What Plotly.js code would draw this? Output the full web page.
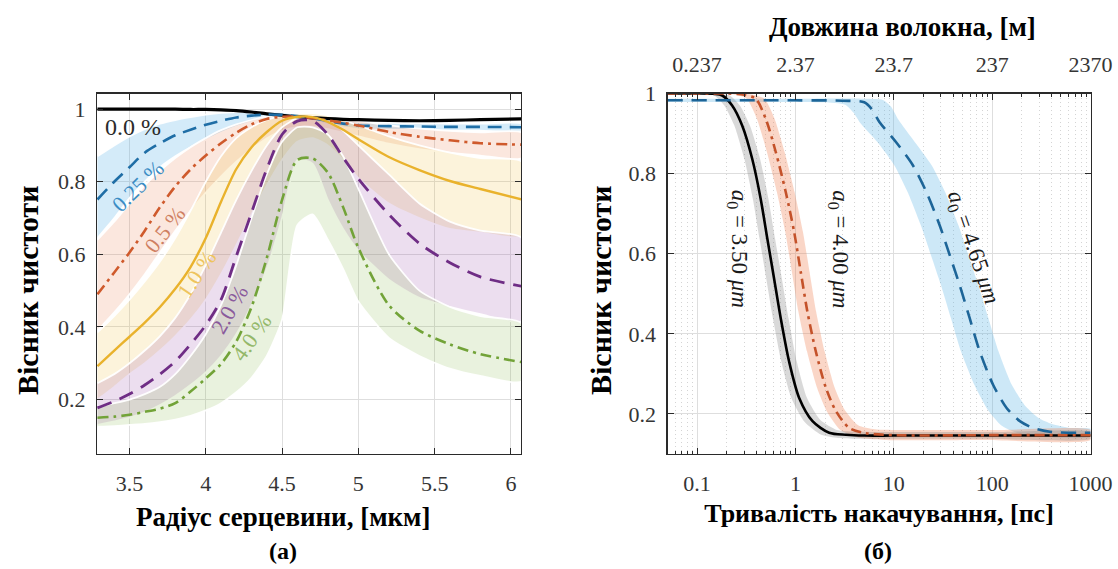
<!DOCTYPE html>
<html>
<head>
<meta charset="utf-8">
<script src="https://cdn.plot.ly/plotly-3.0.1.min.js"></script>
<style>html,body{margin:0;padding:0;background:#fff;}#chart{width:1118px;height:569px;}</style>
</head>
<body>
<div id="chart"></div>
<script>
// ---------- Panel (a): purity vs core radius ----------
const radius = [3.29,3.4,3.5,3.6,3.7,3.8,3.9,4.0,4.1,4.2,4.3,4.4,4.5,4.6,4.7,4.8,4.9,5.0,5.2,5.4,5.6,5.8,6.07];

const p00  = [1.0,1.0,1.0,1.0,1.0,1.0,0.999,0.999,0.998,0.996,0.992,0.987,0.983,0.979,0.976,0.974,0.972,0.971,0.969,0.968,0.969,0.971,0.973];

const p025    = [0.751,0.80,0.84,0.88,0.906,0.928,0.943,0.957,0.968,0.977,0.982,0.985,0.984,0.981,0.975,0.967,0.96,0.955,0.953,0.952,0.951,0.951,0.95];
const p025_lo = [0.645,0.70,0.755,0.8,0.84,0.87,0.895,0.915,0.935,0.952,0.965,0.975,0.977,0.975,0.968,0.958,0.95,0.945,0.943,0.942,0.941,0.941,0.94];
const p025_hi = [0.87,0.9,0.925,0.945,0.96,0.97,0.978,0.985,0.99,0.992,0.993,0.993,0.992,0.989,0.983,0.975,0.968,0.964,0.962,0.961,0.96,0.96,0.96];

const p05    = [0.49,0.55,0.605,0.665,0.73,0.787,0.834,0.872,0.906,0.935,0.958,0.973,0.979,0.979,0.975,0.969,0.962,0.955,0.937,0.924,0.914,0.906,0.902];
const p05_lo = [0.39,0.44,0.49,0.545,0.605,0.665,0.72,0.77,0.815,0.855,0.89,0.92,0.94,0.95,0.952,0.945,0.935,0.925,0.905,0.89,0.88,0.872,0.865];
const p05_hi = [0.64,0.69,0.74,0.79,0.83,0.865,0.895,0.92,0.942,0.958,0.97,0.98,0.985,0.985,0.982,0.978,0.973,0.968,0.955,0.946,0.94,0.936,0.935];

const p10    = [0.292,0.335,0.373,0.412,0.455,0.505,0.565,0.645,0.745,0.835,0.895,0.937,0.968,0.979,0.978,0.965,0.943,0.917,0.868,0.832,0.802,0.78,0.751];
const p10_lo = [0.2,0.235,0.27,0.3,0.335,0.375,0.42,0.475,0.545,0.625,0.71,0.79,0.86,0.91,0.92,0.9,0.86,0.81,0.74,0.7,0.67,0.66,0.65];
const p10_hi = [0.385,0.43,0.475,0.525,0.58,0.645,0.72,0.8,0.87,0.92,0.95,0.97,0.982,0.988,0.988,0.983,0.97,0.955,0.925,0.9,0.88,0.865,0.855];

const p20    = [0.177,0.195,0.215,0.24,0.27,0.305,0.352,0.405,0.475,0.595,0.715,0.835,0.93,0.967,0.968,0.93,0.867,0.808,0.71,0.63,0.577,0.538,0.512];
const p20_lo = [0.13,0.14,0.15,0.165,0.185,0.21,0.24,0.275,0.32,0.38,0.46,0.56,0.7,0.86,0.85,0.75,0.67,0.61,0.53,0.48,0.455,0.435,0.416];
const p20_hi = [0.245,0.27,0.3,0.335,0.375,0.425,0.49,0.57,0.66,0.75,0.83,0.9,0.95,0.975,0.98,0.97,0.94,0.9,0.82,0.74,0.69,0.665,0.645];

const p40    = [0.15,0.153,0.158,0.166,0.175,0.19,0.222,0.258,0.298,0.36,0.455,0.59,0.75,0.86,0.864,0.825,0.73,0.618,0.46,0.39,0.352,0.325,0.303];
const p40_lo = [0.125,0.127,0.13,0.133,0.138,0.145,0.155,0.17,0.19,0.22,0.26,0.32,0.42,0.68,0.71,0.64,0.56,0.47,0.37,0.32,0.285,0.265,0.25];
const p40_hi = [0.18,0.19,0.2,0.215,0.235,0.27,0.32,0.38,0.46,0.57,0.7,0.82,0.91,0.95,0.95,0.93,0.87,0.78,0.6,0.5,0.455,0.43,0.41];

const radiusTicks = [3.5,4,4.5,5,5.5,6];
const radiusTickText = ['3.5','4','4.5','5','5.5','6'];
const purityTicksA = [0.2,0.4,0.6,0.8,1];
const purityTickTextA = ['0.2','0.4','0.6','0.8','1'];

// ---------- Panel (b): purity vs pump duration ----------
const tA = [0.05,0.1,0.15,0.18,0.227,0.287,0.363,0.442,0.517,0.605,0.708,0.861,1.09,1.49,2.2,3.26,5,10,100,1000];
const yA = [1.0,1.0,0.999,0.995,0.97,0.92,0.837,0.738,0.638,0.539,0.439,0.331,0.24,0.182,0.153,0.148,0.146,0.146,0.146,0.146];
const tA_lo = [0.042,0.083,0.125,0.15,0.189,0.239,0.302,0.368,0.431,0.504,0.59,0.718,0.908,1.24,1.83,2.72,4.17,8.3,83,1000];
const tA_hi = [0.05,0.12,0.18,0.216,0.272,0.344,0.436,0.53,0.62,0.726,0.85,1.03,1.31,1.79,2.64,3.91,6,12,120,1000];
const yA_lo = [1.0,1.0,0.999,0.995,0.97,0.92,0.837,0.738,0.638,0.539,0.439,0.331,0.24,0.18,0.148,0.14,0.138,0.138,0.138,0.138];
const yA_hi = [1.0,1.0,0.999,0.995,0.97,0.92,0.837,0.738,0.638,0.539,0.439,0.331,0.24,0.185,0.16,0.156,0.155,0.155,0.155,0.155];

const tB = [0.05,0.1,0.2,0.3,0.394,0.498,0.63,0.796,0.968,1.13,1.32,1.61,2.04,2.58,3.52,5.2,10,100,1000];
const yB = [1.0,1.0,1.0,0.997,0.987,0.937,0.854,0.754,0.655,0.555,0.456,0.356,0.265,0.207,0.165,0.152,0.147,0.147,0.147];
const tB_lo = [0.05,0.081,0.163,0.244,0.32,0.405,0.512,0.647,0.787,0.919,1.07,1.31,1.66,2.1,2.86,4.23,8.1,81,1000];
const tB_hi = [0.06,0.123,0.246,0.369,0.485,0.613,0.775,0.979,1.19,1.39,1.62,1.98,2.51,3.17,4.33,6.4,12.3,123,1000];
const yB_lo = [1.0,1.0,1.0,0.997,0.987,0.937,0.854,0.754,0.655,0.555,0.456,0.356,0.265,0.205,0.16,0.142,0.135,0.135,0.135];
const yB_hi = [1.0,1.0,1.0,0.997,0.987,0.937,0.854,0.754,0.655,0.555,0.456,0.356,0.265,0.21,0.172,0.162,0.16,0.16,0.16];

const tC = [0.05,1,3,5,6,7.13,10.5,15.6,21.4,29.2,36.9,46.6,59,74.7,102,140,191,261,400,1000];
const yC = [0.983,0.983,0.982,0.978,0.96,0.929,0.879,0.821,0.754,0.671,0.597,0.522,0.439,0.356,0.273,0.215,0.182,0.165,0.155,0.153];
const tC_lo = [0.05,0.65,1.94,3.2,3.9,4.6,6.8,10.1,13.8,18.8,23.8,30.1,38.1,48.2,65.8,90.3,123,168,258,1000];
const tC_hi = [0.05,1.55,4.65,7.75,9.3,11.1,16.3,24.2,33.2,45.3,57.2,72.2,91.5,116,158,217,296,405,620,1000];
const yC_lo = [0.979,0.979,0.978,0.972,0.952,0.925,0.879,0.821,0.754,0.671,0.597,0.522,0.439,0.356,0.273,0.21,0.172,0.155,0.145,0.143];
const yC_hi = [0.987,0.987,0.987,0.984,0.968,0.935,0.879,0.821,0.754,0.671,0.597,0.522,0.439,0.356,0.273,0.22,0.19,0.175,0.165,0.163];

const durationTicks = [0.1,1,10,100,1000];
const durationTickText = ['0.1','1','10','100','1000'];
const lengthTickText = ['0.237','2.37','23.7','237','2370'];
const purityTicksB = [0.2,0.4,0.6,0.8,1];
const purityTickTextB = ['0.2','0.4','0.6','0.8','1'];

// ---------- styling ----------
const SERIF = 'Liberation Serif, Times New Roman, serif';
const C = {blue:'#1f6ea6', orange:'#cf5a2c', yellow:'#e9b22c', purple:'#6f2d85', green:'#72a338', black:'#000000'};

function band(xs, lo, hi, fill, xa, ya, edge) {
  return {x: xs.concat(xs.slice().reverse()), y: lo.concat(hi.slice().reverse()),
    type:'scatter', mode:'lines', fill:'toself', fillcolor: fill,
    line:{color: edge ? 'rgba(255,255,255,0.95)' : 'rgba(0,0,0,0)', width: edge ? 1.8 : 0, shape:'spline', smoothing:0.6},
    xaxis:xa, yaxis:ya, hoverinfo:'skip', showlegend:false};
}
function band2(xl, yl, xh, yh, fill, xa, ya) {
  return {x: xl.concat(xh.slice().reverse()), y: yl.concat(yh.slice().reverse()),
    type:'scatter', mode:'lines', fill:'toself', fillcolor: fill,
    line:{color:'rgba(0,0,0,0)', width:0, shape:'spline', smoothing:0.6},
    xaxis:xa, yaxis:ya, hoverinfo:'skip', showlegend:false};
}
function line(xs, ys, color, dash, width, xa, ya, name) {
  return {x: xs, y: ys, type:'scatter', mode:'lines', name: name,
    line:{color: color, dash: dash, width: width, shape:'spline', smoothing:0.8},
    xaxis:xa, yaxis:ya, showlegend:false};
}

const traces = [
  band(radius, p025_lo, p025_hi, 'rgba(77,170,230,0.24)', 'x','y', true),
  band(radius, p05_lo, p05_hi, 'rgba(232,110,60,0.17)', 'x','y', true),
  band(radius, p10_lo, p10_hi, 'rgba(240,185,40,0.17)', 'x','y', true),
  band(radius, p20_lo, p20_hi, 'rgba(140,60,160,0.17)', 'x','y', true),
  band(radius, p40_lo, p40_hi, 'rgba(125,180,60,0.17)', 'x','y', true),
  line(radius, p00, C.black, 'solid', 3.2, 'x','y','0.0 %'),
  line(radius, p025, C.blue, '14px,8px', 2.6, 'x','y','0.25 %'),
  line(radius, p05, C.orange, '11px,5px,3px,5px', 2.6, 'x','y','0.5 %'),
  line(radius, p10, C.yellow, 'solid', 2.4, 'x','y','1.0 %'),
  line(radius, p20, C.purple, '15px,9px', 2.8, 'x','y','2.0 %'),
  line(radius, p40, C.green, '11px,5px,3px,5px', 2.6, 'x','y','4.0 %'),

  band2(tC_lo, yC_lo, tC_hi, yC_hi, 'rgba(90,180,230,0.30)', 'x2','y2'),
  band2(tB_lo, yB_lo, tB_hi, yB_hi, 'rgba(240,120,70,0.30)', 'x2','y2'),
  band2(tA_lo, yA_lo, tA_hi, yA_hi, 'rgba(120,120,120,0.28)', 'x2','y2'),
  line(tA, yA, C.black, 'solid', 2.6, 'x2','y2','3.50'),
  line(tB, yB, '#c4522a', '10px,5px,3px,5px', 2.6, 'x2','y2','4.00'),
  line(tC, yC, '#1d6598', '15px,9px', 2.6, 'x2','y2','4.65'),
  {x: durationTicks, y: [0.5,0.5,0.5,0.5,0.5], type:'scatter', mode:'markers', marker:{opacity:0}, xaxis:'x3', yaxis:'y2', hoverinfo:'skip', showlegend:false}
];

const tickFont = {family: SERIF, size: 22, color: '#353535'};
const titleFont = {family: SERIF, size: 27, color: '#000'};
const yTitleFont = {family: SERIF, size: 30, color: '#000'};
const gridC = '#dedede';
const axLine = '#2a2a2a';

const yDom = [1 - 454/569, 1 - 93.5/569];

const layout = {
  width: 1118, height: 569,
  margin: {l:0, r:0, t:0, b:0},
  paper_bgcolor: '#fff', plot_bgcolor: '#fff',
  showlegend: false,
  font: {family: SERIF},
  xaxis: {domain: [97/1118, 521/1118], range: [3.287, 6.066], tickvals: radiusTicks, ticktext: radiusTickText,
    showgrid: true, gridcolor: gridC, gridwidth: 1, zeroline: false,
    showline: true, linecolor: axLine, linewidth: 1.2, mirror: 'ticks',
    ticks: 'inside', ticklen: 6, tickcolor: axLine, tickfont: tickFont, ticklabelstandoff: 9,
    automargin: false, anchor: 'y'},
  yaxis: {domain: yDom, range: [0.05, 1.043], tickvals: purityTicksA, ticktext: purityTickTextA,
    showgrid: true, gridcolor: gridC, gridwidth: 1, zeroline: false,
    showline: true, linecolor: axLine, linewidth: 1.2, mirror: 'ticks',
    ticks: 'inside', ticklen: 6, tickcolor: axLine, tickfont: tickFont, ticklabelstandoff: 6,
    automargin: false, anchor: 'x'},
  xaxis2: {domain: [667.5/1118, 1090.6/1118], type: 'log', range: [Math.log10(0.05), 3],
    tickvals: durationTicks, ticktext: durationTickText,
    showgrid: true, gridcolor: gridC, gridwidth: 1, zeroline: false,
    showline: true, linecolor: axLine, linewidth: 1.2, mirror: false,
    ticks: 'inside', ticklen: 6, tickcolor: axLine, tickfont: tickFont, ticklabelstandoff: 9,
    minor: {dtick: 'D1', showgrid: true, gridcolor: '#d4d4d4', griddash: '1px,3px', gridwidth: 1, ticks: 'inside', ticklen: 3, tickcolor: axLine},
    title: {text: '<b>Тривалість накачування, [пс]</b>', font: {family: SERIF, size: 26, color: '#000'}, standoff: 9}, automargin: false, anchor: 'y2'},
  xaxis3: {overlaying: 'x2', side: 'top', anchor: 'y2', type: 'log', range: [Math.log10(0.05), 3],
    tickvals: durationTicks, ticktext: lengthTickText,
    showgrid: false, zeroline: false, showline: true, linecolor: axLine, linewidth: 1.2,
    ticks: 'inside', ticklen: 6, tickcolor: axLine, tickfont: tickFont, ticklabelstandoff: 12,
    minor: {dtick: 'D1', showgrid: false, ticks: 'inside', ticklen: 3, tickcolor: axLine},
    automargin: false},
  yaxis2: {domain: yDom, range: [0.1, 1.0], tickvals: purityTicksB, ticktext: purityTickTextB,
    showgrid: true, gridcolor: gridC, gridwidth: 1, zeroline: false,
    showline: true, linecolor: axLine, linewidth: 1.2, mirror: 'ticks',
    ticks: 'inside', ticklen: 6, tickcolor: axLine, tickfont: tickFont, ticklabelstandoff: 6,
    automargin: false, anchor: 'x2'},
  annotations: [
    {text: '<b>Радіус серцевини, [мкм]</b>', xref:'paper', yref:'paper', x: 283/1118, y: 1 - 517/569, xanchor:'center', yanchor:'middle', showarrow:false, font: titleFont},
    {text: '<b>Довжина волокна, [м]</b>', xref:'paper', yref:'paper', x: 902/1118, y: 1 - 27/569, xanchor:'center', yanchor:'middle', showarrow:false, font: titleFont},
    {text: '<b>Вісник чистоти</b>', xref:'paper', yref:'paper', x: 27/1118, y: 1 - 290/569, xanchor:'center', yanchor:'middle', textangle: -90, showarrow:false, font: yTitleFont},
    {text: '<b>Вісник чистоти</b>', xref:'paper', yref:'paper', x: 600/1118, y: 1 - 290/569, xanchor:'center', yanchor:'middle', textangle: -90, showarrow:false, font: yTitleFont},
    {text: '0.0 %', xref:'x', yref:'y', x: 3.525, y: 0.952, showarrow:false, font:{family:SERIF, size:24, color:'#2b2b2b'}},
    {text: '0.25 %', xref:'x', yref:'y', x: 3.554, y: 0.786, textangle: -44, showarrow:false, font:{family:SERIF, size:22, color:'#3b8cc4'}},
    {text: '0.5 %', xref:'x', yref:'y', x: 3.732, y: 0.669, textangle: -52, showarrow:false, font:{family:SERIF, size:22, color:'#cf7f62'}},
    {text: '1.0 %', xref:'x', yref:'y', x: 3.939, y: 0.545, textangle: -56, showarrow:false, font:{family:SERIF, size:22, color:'#eec45e'}},
    {text: '2.0 %', xref:'x', yref:'y', x: 4.156, y: 0.448, textangle: -60, showarrow:false, font:{family:SERIF, size:22, color:'#8a5a9c'}},
    {text: '4.0 %', xref:'x', yref:'y', x: 4.30, y: 0.371, textangle: -55, showarrow:false, font:{family:SERIF, size:22, color:'#94b86a'}},
    {text: '<i>a</i><sub>0</sub> = 3.50 <i>μm</i>', xref:'x2', yref:'y2', x: Math.log10(0.262), y: 0.612, textangle: 90, showarrow:false, font:{family:SERIF, size:23, color:'#1a1a1a'}},
    {text: '<i>a</i><sub>0</sub> = 4.00 <i>μm</i>', xref:'x2', yref:'y2', x: Math.log10(2.75), y: 0.612, textangle: 90, showarrow:false, font:{family:SERIF, size:23, color:'#1a1a1a'}},
    {text: '<i>a</i><sub>0</sub> = 4.65 <i>μm</i>', xref:'x2', yref:'y2', x: Math.log10(63), y: 0.614, textangle: 71, showarrow:false, font:{family:SERIF, size:23, color:'#1a1a1a'}},
    {text: '<b>(а)</b>', xref:'paper', yref:'paper', x: 283/1118, y: 1 - 551/569, xanchor:'center', yanchor:'middle', showarrow:false, font:{family:SERIF, size:24, color:'#000'}},
    {text: '<b>(б)</b>', xref:'paper', yref:'paper', x: 878/1118, y: 1 - 551/569, xanchor:'center', yanchor:'middle', showarrow:false, font:{family:SERIF, size:24, color:'#000'}}
  ]
};

Plotly.newPlot('chart', traces, layout, {staticPlot: true, displayModeBar: false});
</script>
</body>
</html>
